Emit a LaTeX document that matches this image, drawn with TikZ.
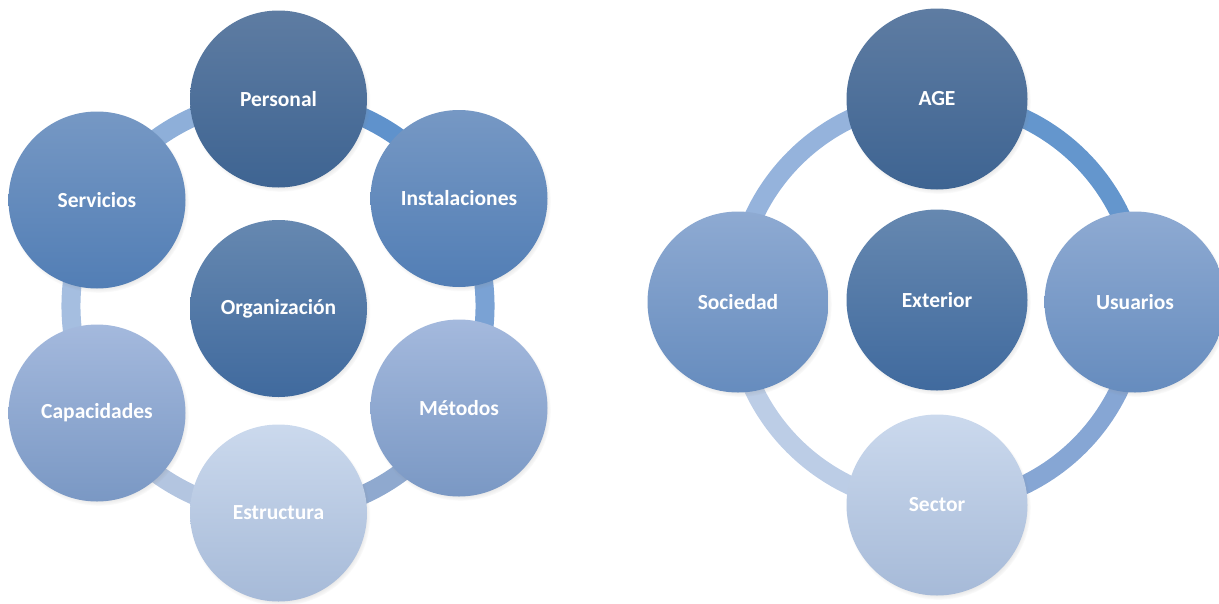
\documentclass[tikz,border=0pt]{standalone}
\usepackage{fontspec}
\setmainfont{Carlito}
\usetikzlibrary{shadows}
\definecolor{dkT}{RGB}{94,124,162}
\definecolor{dkB}{RGB}{62,100,146}
\definecolor{ctT}{RGB}{102,136,176}
\definecolor{ctB}{RGB}{64,106,158}
\definecolor{mdT}{RGB}{118,152,196}
\definecolor{mdB}{RGB}{82,126,181}
\definecolor{ltT}{RGB}{164,185,221}
\definecolor{ltB}{RGB}{122,152,196}
\definecolor{rmT}{RGB}{142,170,210}
\definecolor{rmB}{RGB}{102,140,190}
\definecolor{vlT}{RGB}{203,217,237}
\definecolor{vlB}{RGB}{166,186,216}
\definecolor{rA}{RGB}{142,175,217}
\definecolor{rB}{RGB}{95,146,204}
\definecolor{rC}{RGB}{122,162,212}
\definecolor{rD}{RGB}{143,169,207}
\definecolor{rE}{RGB}{179,197,224}
\definecolor{rF}{RGB}{165,190,224}
\definecolor{sA}{RGB}{149,179,220}
\definecolor{sB}{RGB}{100,150,205}
\definecolor{sC}{RGB}{134,166,212}
\definecolor{sD}{RGB}{188,205,230}
\tikzset{
  bubble/.style={circle, minimum size=177pt, inner sep=0pt, text=white,
    font=\fontsize{21.5}{24}\selectfont\bfseries,
    circular drop shadow={shadow xshift=1.5pt, shadow yshift=-2.5pt, shadow scale=1.02, opacity=0.45}},
  dark/.style={bubble, top color=dkT, bottom color=dkB},
  centre/.style={bubble, top color=ctT, bottom color=ctB},
  mid/.style={bubble, top color=mdT, bottom color=mdB},
  light/.style={bubble, top color=ltT, bottom color=ltB},
  rmid/.style={bubble, top color=rmT, bottom color=rmB},
  pale/.style={bubble, top color=vlT, bottom color=vlB},
  ring/.style={line width=19pt}
}
\begin{document}
\begin{tikzpicture}[x=1pt, y=-1pt]
\useasboundingbox (0,0) rectangle (1219,603);
% ---------- left diagram ----------
\coordinate (L) at (278,306);
\coordinate (Lp) at (278,99);
\coordinate (Li) at (457.3,202.5);
\coordinate (Lm) at (457.3,409.5);
\coordinate (Le) at (278,513);
\coordinate (Lc) at (98.7,409.5);
\coordinate (Ls) at (98.7,202.5);
\draw[ring, rA] (Ls) arc[start angle=210, end angle=270, radius=207];
\draw[ring, rB] (Lp) arc[start angle=270, end angle=330, radius=207];
\draw[ring, rC] (Li) arc[start angle=-30, end angle=30, radius=207];
\draw[ring, rD] (Lm) arc[start angle=30, end angle=90, radius=207];
\draw[ring, rE] (Le) arc[start angle=90, end angle=150, radius=207];
\draw[ring, rF] (Lc) arc[start angle=150, end angle=210, radius=207];
\node[dark] (personal) at (278.5,99) {Personal};
\node[mid] (servicios) at (97,200) {Servicios};
\node[mid] (instal) at (459,198.5) {Instalaciones};
\node[light] (capac) at (97,413) {Capacidades};
\node[light] (metodos) at (459,408) {Métodos};
\node[pale] (estruct) at (278.5,513) {Estructura};
\node[centre] (organiz) at (278.5,308.5) {Organización};
% ---------- right diagram ----------
\coordinate (Ra) at (937,99);
\coordinate (Ru) at (1139,302);
\coordinate (Rs) at (937,505);
\coordinate (Rq) at (735,302);
\draw[ring, sA] (Rq) arc[start angle=180, end angle=270, radius=203];
\draw[ring, sB] (Ra) arc[start angle=270, end angle=360, radius=203];
\draw[ring, sC] (Ru) arc[start angle=0, end angle=90, radius=203];
\draw[ring, sD] (Rs) arc[start angle=90, end angle=180, radius=203];
\node[dark, minimum size=181pt] (age) at (937,99) {AGE};
\node[rmid, minimum size=181pt] (sociedad) at (738,302) {Sociedad};
\node[rmid, minimum size=181pt] (usuarios) at (1135,302) {Usuarios};
\node[pale, minimum size=181pt] (sector) at (937,505) {Sector};
\node[centre, minimum size=181pt] (exterior) at (937,300) {Exterior};
\end{tikzpicture}
\end{document}
